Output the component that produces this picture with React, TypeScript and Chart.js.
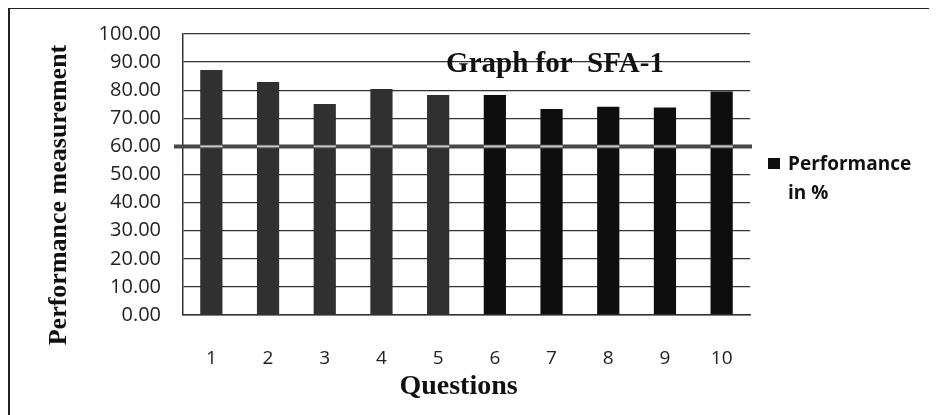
import { useEffect, useRef } from "react";
import { Chart, registerables } from "chart.js";

Chart.register(...registerables);

const questions = ["1", "2", "3", "4", "5", "6", "7", "8", "9", "10"];
const performance = [87.2, 82.9, 75.1, 80.4, 78.3, 78.3, 73.3, 74.1, 73.8, 79.5];
const barColors = ["#303030", "#303030", "#303030", "#303030", "#303030", "#0e0e0e", "#0e0e0e", "#0e0e0e", "#0e0e0e", "#0e0e0e"];
const yMin = 0;
const yMax = 100;
const yStep = 10;
const thresholdValue = 60;
const chartTitle = "Graph for  SFA-1";
const legendLines = ["Performance", "in %"];
const xTitle = "Questions";
const yTitle = "Performance measurement";

const decorPlugin = {
  id: "decor",
  afterDatasetsDraw(chart: any) {
    const ctx = chart.ctx;
    const y = chart.scales.y.getPixelForValue(thresholdValue);
    const area = chart.chartArea;
    ctx.save();
    ctx.strokeStyle = "#474747";
    ctx.lineWidth = 4;
    ctx.beginPath();
    ctx.moveTo(area.left - 9, y);
    ctx.lineTo(area.right + 2, y);
    ctx.stroke();
    const meta = chart.getDatasetMeta(0);
    ctx.strokeStyle = "#c8c8c8";
    ctx.lineWidth = 2;
    meta.data.forEach((bar: any) => {
      ctx.beginPath();
      ctx.moveTo(bar.x - bar.width / 2, y);
      ctx.lineTo(bar.x + bar.width / 2, y);
      ctx.stroke();
    });
    ctx.restore();
  },
  afterDraw(chart: any) {
    const ctx = chart.ctx;
    const area = chart.chartArea;
    ctx.save();
    ctx.fillStyle = "#111";
    ctx.font = "bold 29px 'Liberation Serif'";
    ctx.textAlign = "center";
    ctx.textBaseline = "alphabetic";
    ctx.fillText(chartTitle, 545, 63);
    ctx.font = "bold 28px 'Liberation Serif'";
    ctx.fillText(xTitle, (area.left + area.right) / 2 - 8, 385);
    ctx.save();
    ctx.translate(49, 186);
    ctx.rotate(-Math.PI / 2);
    ctx.font = "bold 26px 'Liberation Serif'";
    ctx.textBaseline = "middle";
    ctx.fillText(yTitle, 0, 0);
    ctx.restore();
    ctx.fillStyle = "#0e0e0e";
    ctx.fillRect(758, 149, 12, 11);
    ctx.textAlign = "left";
    ctx.font = "bold 19px 'Open Sans'";
    ctx.fillStyle = "#111";
    ctx.fillText(legendLines[0], 778, 161);
    ctx.fillText(legendLines[1], 778, 190);
    ctx.restore();
  },
};

export default function App() {
  const ref = useRef<HTMLCanvasElement>(null);
  useEffect(() => {
    if (!ref.current) return;
    const chart = new Chart(ref.current, {
      type: "bar",
      data: {
        labels: questions,
        datasets: [
          {
            label: legendLines.join(" "),
            data: performance,
            backgroundColor: barColors,
            borderWidth: 0,
            categoryPercentage: 0.8,
            barPercentage: 0.49,
          },
        ],
      },
      options: {
        animation: false,
        responsive: true,
        maintainAspectRatio: false,
        layout: { padding: { top: 25, right: 184, bottom: 0, left: 0 } },
        plugins: {
          legend: { display: false },
          title: { display: false },
          tooltip: { enabled: false },
        },
        scales: {
          x: {
            afterFit: (s: any) => {
              s.height = 100;
            },
            grid: { display: false, drawTicks: false },
            border: { display: true, color: "#333", width: 1.5 },
            ticks: {
              color: "#222",
              font: { family: "'Open Sans'", size: 19 },
              padding: 32,
            },
          },
          y: {
            min: yMin,
            max: yMax,
            afterFit: (s: any) => {
              s.width = 173;
            },
            grid: {
              color: "#333",
              lineWidth: 1.3,
              drawTicks: true,
              tickLength: 22,
              tickColor: "rgba(0,0,0,0)",
            },
            border: { display: true, color: "#333", width: 1.5 },
            ticks: {
              stepSize: yStep,
              color: "#222",
              font: { family: "'Open Sans'", size: 20 },
              padding: 0,
              callback: (v: any) => Number(v).toFixed(2),
            },
          },
        },
      },
      plugins: [decorPlugin],
    });
    return () => chart.destroy();
  }, []);
  return (
    <div
      style={{
        border: "2px solid #222",
        width: 924,
        height: 410,
        marginTop: -1,
        background: "#fff",
      }}
    >
      <div style={{ position: "relative", width: 924, height: 406 }}>
        <canvas ref={ref} />
      </div>
    </div>
  );
}
